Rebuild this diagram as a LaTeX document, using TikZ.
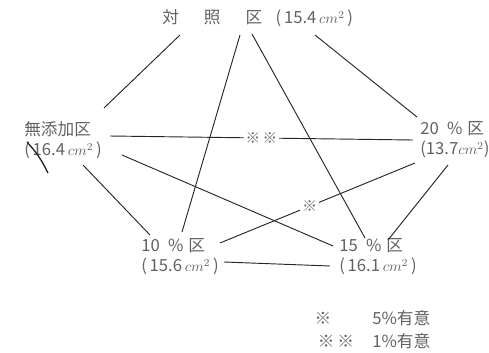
\documentclass[tikz,border=0pt]{standalone}
\usepackage{fontspec}
\setmainfont{Noto Sans CJK JP}
\usetikzlibrary{positioning}
\tikzset{
  lbl/.style={anchor=west, inner sep=0pt, align=left, text=black!62,
              font=\fontsize{12.5}{15}\selectfont},
  lnk/.style={draw=black!85, line width=0.7pt},
  mrk/.style={fill=white, inner sep=1.5pt, text=black!62,
              font=\fontsize{11}{12}\selectfont}
}
\newcommand{\cmsq}{{\fontsize{11}{12}\selectfont$cm^{2}$}}

\begin{document}
\begin{tikzpicture}[x=0.75pt, y=-0.75pt]
\useasboundingbox (0,0) rectangle (489,353);

\node[lbl] (ctrl) at (162,18) {対\hspace{1.5em}照\hspace{1.5em}区\hspace{.8em}(\,15.4\,\cmsq\,)};
\node[lbl] (none) at (24,140) {無添加区\\(\,16.4\,\cmsq\,)};
\node[lbl] (p20) at (420,140) {20\hspace{.5em}\%\hspace{.3em}区\\(13.7\cmsq)};
\node[lbl] (p10) at (141,257) {10\hspace{.5em}\%\hspace{.3em}区\\(\,15.6\,\cmsq\,)};
\node[lbl] (p15) at (339,257) {15\hspace{.5em}\%\hspace{.3em}区\\(\,16.1\,\cmsq\,)};

% ends of the lines
\coordinate (c1) at (180,35);
\coordinate (c2) at (240,35);
\coordinate (c3) at (252,34);
\coordinate (c4) at (315,35);
\coordinate (n1) at (104,108);
\coordinate (n2) at (110,136);
\coordinate (n3) at (122,155);
\coordinate (n4) at (83,165);
\coordinate (t1) at (417,117);
\coordinate (t2) at (413,140);
\coordinate (t3) at (415,163);
\coordinate (t4) at (448,165);
\coordinate (a1) at (182,232);
\coordinate (a2) at (150,235);
\coordinate (a3) at (220,243);
\coordinate (a4) at (224,262);
\coordinate (b1) at (365,238);
\coordinate (b2) at (333,246);
\coordinate (b3) at (388,240);
\coordinate (b4) at (330,266);

\path[lnk] (c1) edge (n1)
           (c2) edge (a1)
           (c3) edge (b1)
           (c4) edge (t1)
           (n2) edge node[mrk, pos=.5]{※\,※} (t2)
           (n3) edge (b2)
           (n4) edge (a2)
           (a3) edge node[mrk, pos=.46]{※} (t3)
           (t4) edge (b3)
           (a4) edge (b4);

\draw[lnk, line width=1pt] (27,142) to[bend left=8] (48,173);

% legend
\node[lbl, anchor=center] (m1) at (323,318) {※};
\node[lbl] (s1) at (372,318) {5\%有意};
\node[lbl, anchor=center] (m2) at (336,341) {※\,※};
\node[lbl] (s2) at (372,341) {1\%有意};
\end{tikzpicture}
\end{document}
